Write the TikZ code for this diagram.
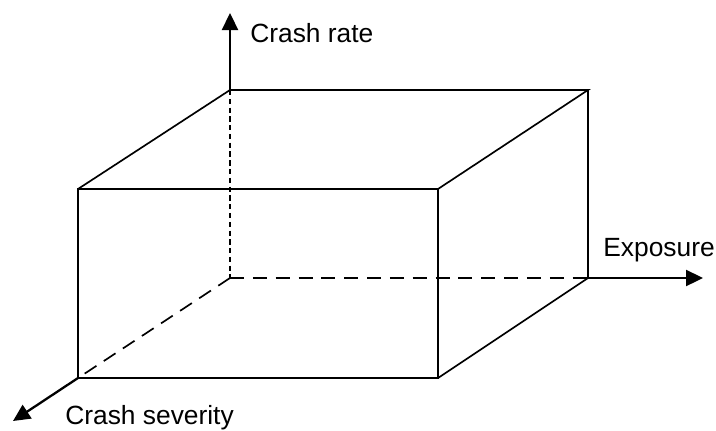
\documentclass[tikz,border=0pt]{standalone}
\usepackage{fontspec}
\setmainfont{Liberation Sans}
\usetikzlibrary{arrows.meta,positioning}

\begin{document}
\begin{tikzpicture}[x=0.02cm,y=-0.02cm,
  every node/.style={font=\fontsize{15}{18}\selectfont,inner sep=0pt},
  edge/.style={line width=0.95pt},
  hidden/.style={line width=0.95pt,dash pattern=on 8pt off 5pt},
  hiddenv/.style={line width=1.1pt,dash pattern=on 3pt off 2pt},
  axis/.style={line width=1.3pt,-{Triangle[length=0.34cm,width=0.32cm]}}]
\useasboundingbox (0,0) rectangle (716,430);
% corners of the box
\coordinate (o) at (230,278);
\coordinate (bt) at (230,90);
\coordinate (btr) at (588,90);
\coordinate (bbr) at (588,278);
\coordinate (ftl) at (78,189);
\coordinate (ftr) at (438,189);
\coordinate (fbr) at (438,378);
\coordinate (fbl) at (78,378);
% axis ends
\coordinate (ytip) at (230,13);
\coordinate (xtip) at (703,278);
\coordinate (ztip) at (13,421);
\draw[edge] (fbl)--(ftl)--(ftr)--(fbr)--cycle;
\draw[edge] (ftl)--(bt)--(btr)--(ftr);
\draw[edge] (btr)--(bbr)--(fbr);
\draw[hiddenv] (bt)--(o);
\draw[hidden] (o)--(bbr);
\draw[hidden] (o)--(fbl);
\draw[axis] (bt)--(ytip);
\draw[axis] (bbr)--(xtip);
\draw[axis] (fbl)--(ztip);
\node[anchor=west] (rate) at (250,33) {Crash rate};
\node[anchor=west] (expo) at (603,250) {Exposure};
\node[anchor=west] (sev) at (65,418) {Crash severity};
\end{tikzpicture}
\end{document}
